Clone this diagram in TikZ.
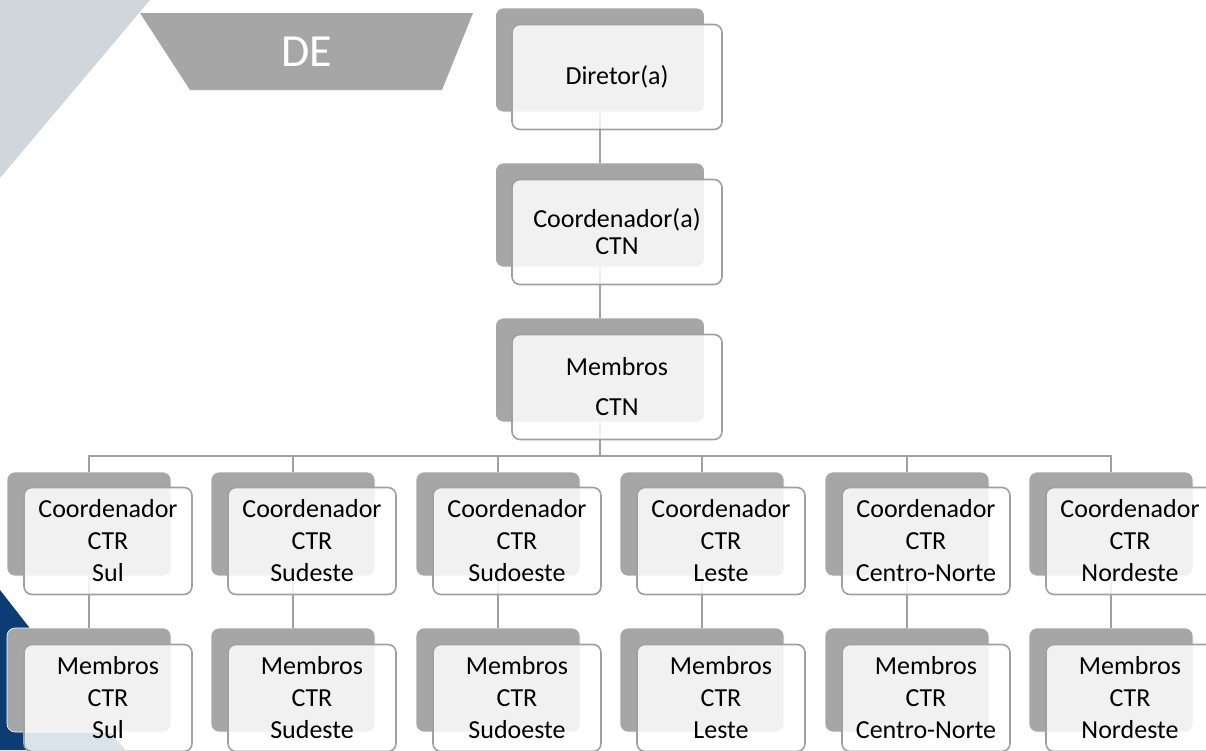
\documentclass[tikz,border=0pt]{standalone}
\usepackage{fontspec}
\setmainfont{Carlito}
\definecolor{boxgray}{HTML}{A6A6A6}
\definecolor{linegray}{HTML}{A0A0A0}
\definecolor{bggray}{HTML}{D0D7DC}
\definecolor{navy}{HTML}{0B3D74}
\begin{document}
\begin{tikzpicture}[x=1pt, y=-1pt,
    backbox/.style={draw=white, line width=0.6pt, fill=boxgray, rounded corners=8pt},
    bigback/.style={backbox, minimum width=209pt, minimum height=104pt},
    smallback/.style={backbox, minimum width=164pt, minimum height=104pt},
    frontbox/.style={draw=linegray, line width=1.6pt, fill=white, fill opacity=0.85, text opacity=1,
        rounded corners=8pt, align=center, inner sep=0pt,
        font=\fontsize{26}{32}\selectfont},
    bigfront/.style={frontbox, minimum width=210pt, minimum height=105pt},
    smallfront/.style={frontbox, minimum width=168pt, minimum height=107pt},
    link/.style={draw=linegray, line width=1.8pt}]
                \useasboundingbox (0,0) rectangle (1206,750);

                % Background
                \fill[bggray] (0,0) -- (150,0) -- (0,178) -- cycle;
                \fill[navy] (0,590) -- (125,750) -- (0,750) -- cycle;
                \fill[boxgray] (140,13) -- (473,13) -- (442,90) -- (190,90) -- cycle;
                \node[text=white, font=\fontsize{46}{50}\selectfont] at (307,52) (de) {DE};

                % Back boxes
                \node[bigback] at (600,60) (dirB) {};
                \node[bigback] at (600,215) (ctnB) {};
                \node[bigback] at (600,370) (memB) {};

                \node[smallback] at (89,524) (cSulB) {};
                \node[smallback] at (293,524) (cSudesteB) {};
                \node[smallback] at (498,524) (cSudoesteB) {};
                \node[smallback] at (702,524) (cLesteB) {};
                \node[smallback] at (907,524) (cCentroB) {};
                \node[smallback] at (1111,524) (cNordesteB) {};

                \node[smallback] at (89,680) (mSulB) {};
                \node[smallback] at (293,680) (mSudesteB) {};
                \node[smallback] at (498,680) (mSudoesteB) {};
                \node[smallback] at (702,680) (mLesteB) {};
                \node[smallback] at (907,680) (mCentroB) {};
                \node[smallback] at (1111,680) (mNordesteB) {};

                % Edges
                \coordinate (bus) at (600,456);
                \draw[link] (dirB) -- (ctnB);
                \draw[link] (ctnB) -- (memB);
                \draw[link] (memB) -- (bus);
                \draw[link] (bus) -| (cSulB);
                \draw[link] (bus) -| (cSudesteB);
                \draw[link] (bus) -| (cSudoesteB);
                \draw[link] (bus) -| (cLesteB);
                \draw[link] (bus) -| (cCentroB);
                \draw[link] (bus) -| (cNordesteB);

                \draw[link] (cSulB) -- (mSulB);
                \draw[link] (cSudesteB) -- (mSudesteB);
                \draw[link] (cSudoesteB) -- (mSudoesteB);
                \draw[link] (cLesteB) -- (mLesteB);
                \draw[link] (cCentroB) -- (mCentroB);
                \draw[link] (cNordesteB) -- (mNordesteB);

                % Front boxes
                \node[bigfront] at (617,77) (dir) {Diretor(a)};
                \node[bigfront] at (617,232) (ctn) {Coordenador(a)\\[-5pt]CTN};
                \node[bigfront] at (617,387) (mem) {Membros\\[8pt]CTN};

                \node[smallfront] at (108,541) (cSul) {Coordenador\\CTR\\Sul};
                \node[smallfront] at (312,541) (cSudeste) {Coordenador\\CTR\\Sudeste};
                \node[smallfront] at (517,541) (cSudoeste) {Coordenador\\CTR\\Sudoeste};
                \node[smallfront] at (721,541) (cLeste) {Coordenador\\CTR\\Leste};
                \node[smallfront] at (926,541) (cCentro) {Coordenador\\CTR\\Centro-Norte};
                \node[smallfront] at (1130,541) (cNordeste) {Coordenador\\CTR\\Nordeste};

                \node[smallfront] at (108,698) (mSul) {Membros\\CTR\\Sul};
                \node[smallfront] at (312,698) (mSudeste) {Membros\\CTR\\Sudeste};
                \node[smallfront] at (517,698) (mSudoeste) {Membros\\CTR\\Sudoeste};
                \node[smallfront] at (721,698) (mLeste) {Membros\\CTR\\Leste};
                \node[smallfront] at (926,698) (mCentro) {Membros\\CTR\\Centro-Norte};
                \node[smallfront] at (1130,698) (mNordeste) {Membros\\CTR\\Nordeste};
            \end{tikzpicture}
\end{document}
